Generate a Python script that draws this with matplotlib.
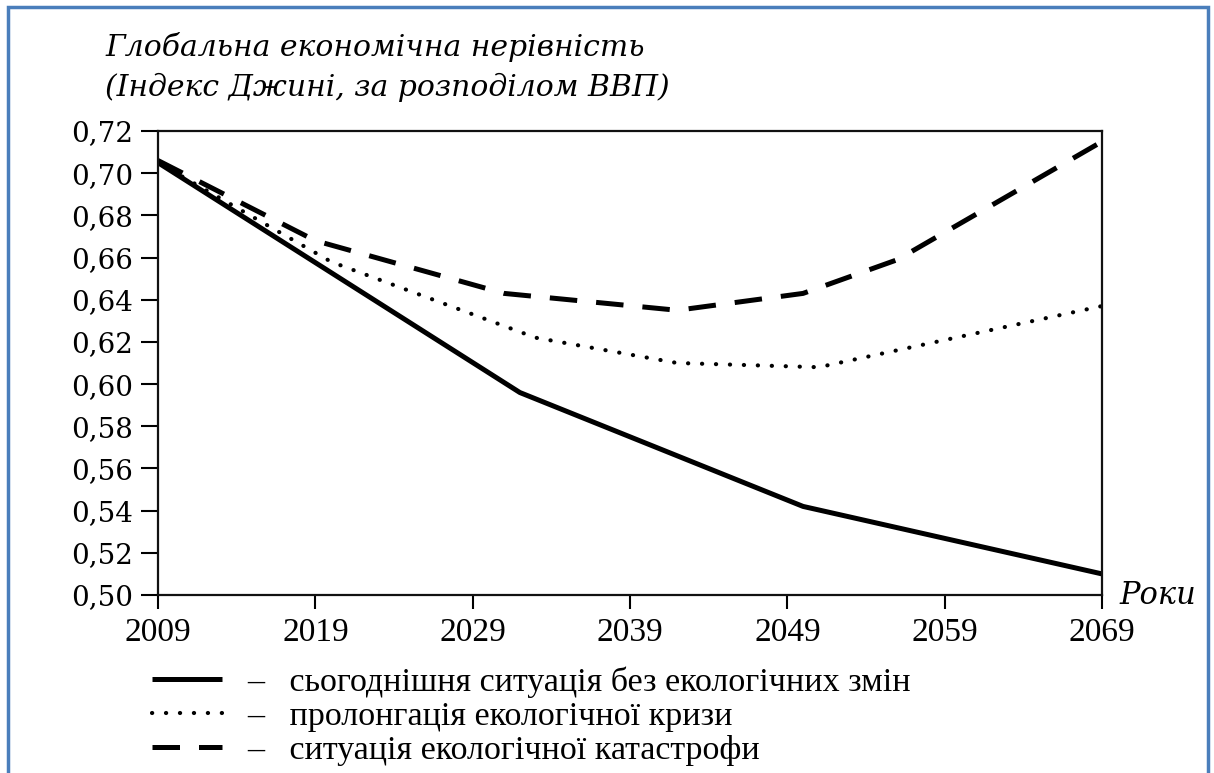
import matplotlib
matplotlib.use("Agg")
import matplotlib.pyplot as plt
from matplotlib.patches import Rectangle

# ---- data ----
years_base = [2009, 2032, 2050, 2069]
gini_base = [0.705, 0.596, 0.542, 0.510]

years_crisis = [2009, 2020, 2033, 2042, 2051, 2069]
gini_crisis = [0.705, 0.658, 0.622, 0.610, 0.608, 0.637]

years_catastrophe = [2009, 2019, 2031, 2042, 2050, 2056, 2069]
gini_catastrophe = [0.706, 0.668, 0.643, 0.635, 0.643, 0.659, 0.715]

x_ticks = [2009, 2019, 2029, 2039, 2049, 2059, 2069]
y_ticks = [0.50, 0.52, 0.54, 0.56, 0.58, 0.60, 0.62, 0.64, 0.66, 0.68, 0.70, 0.72]
y_tick_labels = ["0,50", "0,52", "0,54", "0,56", "0,58", "0,60", "0,62", "0,64",
                 "0,66", "0,68", "0,70", "0,72"]

labels = ["–   сьогоднішня ситуація без екологічних змін",
          "–   пролонгація екологічної кризи",
          "–   ситуація екологічної катастрофи"]
title_lines = ["Глобальна економічна нерівність", "(Індекс Джині, за розподілом ВВП)"]
x_label = "Роки"

W, H = 1214, 773
fig = plt.figure(figsize=(W / 100, H / 100), dpi=100)
fig.patch.set_facecolor("white")

# blue frame
fig.patches.append(Rectangle((8 / W, -0.05), 1200 / W, (H - 7) / H + 0.05,
                             transform=fig.transFigure, fill=False,
                             edgecolor="#4a7ebb", linewidth=2.5, zorder=0))

left, right, top, bottom = 158, 1102, 131, 595
ax = fig.add_axes([left / W, 1 - bottom / H, (right - left) / W, (bottom - top) / H])

l1, = ax.plot(years_base, gini_base, color="black", linewidth=3.6,
              solid_joinstyle="round", solid_capstyle="butt")
l2, = ax.plot(years_crisis, gini_crisis, color="black", linewidth=3.0,
              dashes=(0.05, 3.3), dash_capstyle="round")
l3, = ax.plot(years_catastrophe, gini_catastrophe, color="black", linewidth=3.6,
              dashes=(5.5, 3.8), dash_capstyle="butt")

ax.set_xlim(2009, 2069)
ax.set_ylim(0.50, 0.72)
ax.set_xticks(x_ticks)
ax.set_xticklabels([str(v) for v in x_ticks])
ax.set_yticks(y_ticks)
ax.set_yticklabels(y_tick_labels)

for s in ax.spines.values():
    s.set_linewidth(1.6)
    s.set_color("#111111")

ax.tick_params(axis="y", direction="out", length=12, width=1.5, pad=6,
               labelsize=20)
ax.tick_params(axis="x", direction="out", length=10, width=1.5, pad=6,
               labelsize=24)
for t in ax.get_yticklabels():
    t.set_fontfamily("DejaVu Serif")
for t in ax.get_xticklabels():
    t.set_fontfamily("Liberation Serif")

# axis label "Роки"
ax.text(1.019, 0.0, x_label, transform=ax.transAxes, ha="left", va="center",
        fontsize=22, fontstyle="italic", family="DejaVu Serif")

# title lines
fig.text(105 / W, 1 - 47 / H, title_lines[0], ha="left", va="center",
         fontsize=21.5, fontstyle="italic", family="DejaVu Serif")
fig.text(105 / W, 1 - 87 / H, title_lines[1], ha="left", va="center",
         fontsize=21.5, fontstyle="italic", family="DejaVu Serif")

leg = fig.legend([l1, l2, l3], labels, loc="upper left",
                 bbox_to_anchor=(152 / W, 1 - 666 / H),
                 frameon=False, borderpad=0, borderaxespad=0,
                 prop={"family": "Liberation Serif", "size": 24.5},
                 handlelength=2.06, handletextpad=0.75, labelspacing=0.1)

fig.savefig("out.png", dpi=100)
